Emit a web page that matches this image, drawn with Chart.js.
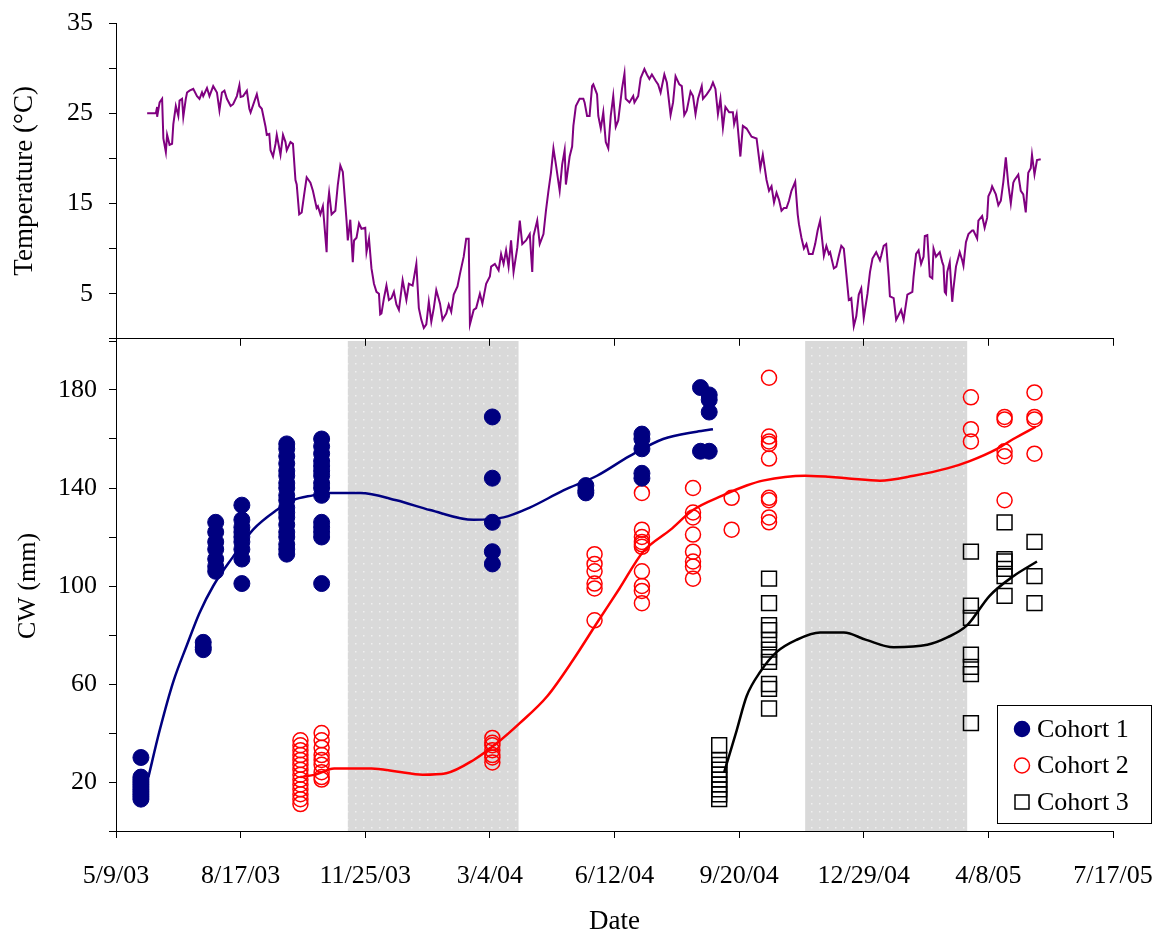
<!DOCTYPE html>
<html>
<head>
<meta charset="utf-8">
<script src="https://cdn.jsdelivr.net/npm/chart.js@4.4.1/dist/chart.umd.min.js"></script>
<style>
  body { margin: 0; background: #fff; }
  #wrap { position: relative; width: 1165px; height: 940px; }
  #tempChart { position: absolute; left: 0; top: 0; z-index: 2; }
  #cwChart { position: absolute; left: 0; top: 320px; z-index: 1; }
</style>
</head>
<body>
<div id="wrap">
  <canvas id="tempChart" width="1165" height="360"></canvas>
  <canvas id="cwChart" width="1165" height="620"></canvas>
</div>
<script>
// x values are days after 5/9/03
var xTickLabels = ['5/9/03', '8/17/03', '11/25/03', '3/4/04', '6/12/04', '9/20/04', '12/29/04', '4/8/05', '7/17/05'];
var tempTickLabels = ['5', '15', '25', '35'];
var cwTickLabels = ['20', '60', '100', '140', '180'];

// winter periods (shaded)
var bandStart = [186, 553];
var bandEnd = [323, 683];

var tempDay = [25, 32, 33, 33, 35, 37, 38, 40, 41, 43, 45, 46, 48, 50, 51, 53, 54, 56, 57, 59, 62, 65, 67, 69, 70, 73, 75, 78, 81, 83, 85, 87, 89, 92, 94, 97, 99, 100, 102, 105, 107, 108, 110, 113, 115, 117, 120, 121, 123, 124, 126, 128, 129, 132, 134, 136, 137, 140, 142, 144, 145, 147, 149, 151, 153, 156, 158, 161, 162, 164, 166, 169, 170, 171, 173, 176, 178, 180, 182, 184, 185, 186, 188, 190, 191, 193, 195, 197, 200, 201, 203, 205, 207, 209, 211, 212, 213, 215, 217, 219, 221, 223, 225, 227,
  230, 233, 235, 238, 241, 243, 245, 247, 249, 251, 253, 255, 257, 260, 262, 265, 267, 269, 271, 274, 276, 279, 281, 283, 284, 287, 289, 292, 294, 297, 300, 301, 304, 307, 309, 311, 313, 315, 317, 319, 322, 324, 326, 329, 332, 334, 335, 338, 340, 343, 345, 347, 349, 351, 353, 356, 358, 360, 361, 364, 366, 367, 369, 372, 375, 376, 378, 380, 382, 383, 386, 387, 389, 391, 393, 395, 397, 399, 401, 403, 406, 408, 409, 412, 415, 416, 419, 421, 424, 426, 428, 430, 433, 435, 437, 440, 442, 445, 447, 449, 452, 454, 456, 458, 461, 463, 465, 467, 470, 471, 474, 477, 479, 481, 483, 485, 487, 489, 492, 495, 496, 498, 501, 503, 506, 510, 514, 517,
  519, 522, 524, 526, 528, 530, 532, 534, 536, 538, 540, 542, 545, 547, 548, 550, 552, 554, 556, 559, 561, 563, 565, 568, 570, 572, 573, 576, 578, 580, 582, 584, 586, 588, 590, 592, 594, 596, 598, 600, 603, 605, 607, 610, 613, 614, 616, 618, 620, 621, 624, 626, 630, 632, 635, 639, 640, 642, 644, 646, 648, 649, 651, 653, 655, 656, 658, 661, 663, 664, 665, 666, 667, 669, 671, 672, 674, 677, 679, 680, 682, 684, 687, 688, 691, 692, 695, 697, 699, 700, 702, 703, 706, 708, 710, 712, 714, 716, 718, 720, 721, 724, 726, 728, 730, 732, 734, 735, 737, 739, 742];
var tempC = [25.0, 25.0, 25.7, 24.6, 26.2, 26.6, 22.2, 20.7, 22.6, 21.5, 21.6, 23.8, 25.8, 24.7, 26.4, 26.6, 24.6, 26.6, 27.3, 27.5, 27.7, 26.9, 26.6, 27.3, 26.9, 27.8, 26.9, 28.0, 27.3, 25.3, 27.3, 27.5, 26.6, 25.8, 26.0, 26.9, 28.1, 26.8, 26.9, 27.5, 25.5, 25.1, 25.9, 27.1, 25.8, 25.5, 23.5, 22.6, 22.7, 20.9, 20.2, 21.6, 22.6, 20.4, 22.6, 21.8, 20.9, 21.8, 21.6, 17.6, 17.1, 13.8, 14.0, 16.0, 17.9, 17.3, 16.4, 14.5, 14.7, 13.8, 14.7, 9.6, 14.9, 16.2, 13.8, 14.2, 17.1, 19.2, 18.5, 14.9, 13.1, 10.9, 13.2, 8.5, 10.9, 11.2, 12.8, 12.2, 12.3, 9.6, 11.1, 7.8, 6.1, 5.2, 5.0, 2.7, 2.8, 4.5, 5.9, 4.3, 4.5, 5.2, 3.8, 3.2,
  6.5, 4.3, 6.1, 5.9, 8.3, 3.4, 2.1, 1.2, 1.6, 4.1, 1.9, 3.4, 5.4, 3.9, 2.1, 2.8, 3.8, 3.0, 4.9, 5.8, 7.2, 9.1, 11.1, 11.1, 1.6, 3.2, 3.4, 5.0, 3.9, 6.1, 6.9, 8.0, 8.3, 7.6, 9.4, 8.3, 9.8, 8.0, 10.9, 7.4, 10.1, 13.1, 10.5, 10.9, 11.6, 7.4, 11.4, 13.1, 10.5, 11.6, 14.2, 16.4, 18.4, 21.1, 19.3, 16.4, 19.3, 20.9, 17.1, 20.2, 21.3, 23.6, 25.8, 26.6, 26.6, 26.2, 24.7, 24.7, 28.0, 28.2, 27.1, 24.7, 23.3, 25.1, 21.8, 21.1, 24.7, 26.9, 23.5, 24.2, 27.7, 29.4, 26.6, 26.2, 26.9, 26.2, 26.9, 28.9, 29.9, 29.3, 28.8, 29.3, 28.6, 28.2, 27.3, 29.3, 28.4, 24.8, 26.2, 29.1, 28.2, 28.0, 24.8, 25.3, 27.4, 26.9, 24.9, 26.6, 28.0, 26.6, 27.1, 27.7, 28.4, 27.7, 24.9, 26.6, 23.4, 25.7, 25.1, 25.1, 23.8, 24.9, 20.2, 23.6, 23.3, 22.4, 22.2, 18.9,
  20.4, 17.6, 16.4, 16.9, 15.1, 16.2, 15.4, 14.2, 14.5, 14.5, 15.3, 16.4, 17.4, 13.8, 12.7, 11.2, 10.0, 10.5, 9.4, 9.4, 10.5, 12.0, 13.1, 9.2, 10.3, 9.4, 9.6, 7.8, 8.0, 9.2, 10.3, 10.0, 7.2, 4.3, 4.5, 1.4, 2.5, 4.9, 5.6, 2.3, 5.0, 7.4, 8.9, 9.6, 8.7, 9.2, 10.3, 10.5, 6.9, 4.7, 4.5, 2.1, 3.2, 2.1, 4.9, 5.2, 6.9, 9.4, 9.8, 8.3, 9.1, 11.4, 11.5, 6.9, 6.7, 10.0, 9.1, 9.6, 8.5, 8.1, 5.2, 5.0, 7.4, 8.5, 4.1, 5.6, 8.0, 9.6, 8.7, 8.1, 10.7, 11.6, 12.0, 12.0, 11.1, 13.1, 13.6, 12.3, 13.4, 15.8, 16.4, 16.9, 16.0, 14.8, 15.3, 17.4, 20.1, 17.1, 15.0, 17.3, 17.6, 18.2, 16.4, 16.0, 14.0, 18.4, 18.9, 20.4, 18.2, 19.8, 19.9];

// carapace width samples, one list per sampling day
var c1Days = [20, 70, 80, 101, 137, 165, 302, 377, 422, 469, 476];
var c1CW = [
  [30, 22, 21, 20, 19, 18, 17, 16, 15, 14, 13],
  [77, 75, 74],
  [126, 122, 118, 115, 111, 108, 106],
  [133, 127, 124, 122, 120, 118, 115, 111, 101],
  [158, 156, 153, 150, 147, 145, 142, 140, 137, 135, 132, 130, 128, 125, 122, 120, 117, 115, 113],
  [160, 157, 154, 151, 149, 147, 145, 142, 140, 137, 126, 124, 122, 120, 101],
  [169, 144, 126, 114, 109],
  [141, 139, 138],
  [162, 160, 156, 146, 144],
  [181, 155],
  [178, 176, 171, 155]
];
var c2Days = [148, 165, 302, 384, 422, 463, 494, 524, 686, 713, 737];
var c2CW = [
  [37, 35, 33, 31, 29, 27, 25, 23, 21, 19, 17, 15, 13, 11],
  [40, 37, 34, 31, 29, 27, 24, 22, 21],
  [38, 36, 35, 33, 31, 30, 28],
  [113, 109, 106, 101, 99, 86],
  [138, 123, 120, 118, 117, 116, 106, 100, 98, 93],
  [140, 130, 128, 121, 114, 110, 108, 103],
  [136, 123],
  [185, 161, 159, 158, 152, 136, 135, 128, 126],
  [177, 164, 159],
  [169, 168, 155, 153, 135],
  [179, 169, 168, 154]
];
var c3Days = [484, 524, 686, 713, 737];
var c3CW = [
  [35, 29, 27, 25, 23, 21, 19, 17, 15, 13],
  [103, 93, 84, 82, 78, 74, 71, 69, 60, 58, 50],
  [114, 92, 87, 72, 67, 64, 44],
  [126, 111, 110, 107, 104, 96],
  [118, 104, 93]
];

// growth curves
var fit1Day = [26, 35, 46, 57, 67, 78, 94, 110, 129, 142, 158, 169, 196, 225, 252, 287, 311, 332, 359, 386, 412, 439, 466, 479];
var fit1CW = [22, 41, 61, 76, 89, 100, 112, 123, 131, 135, 137, 138, 138, 135, 131, 127, 128, 132, 139, 145, 153, 160, 163, 164];
var fit2Day = [148, 160, 175, 205, 225, 246, 265, 287, 306, 324, 346, 367, 386, 404, 423, 445, 463, 487, 506, 519, 553, 586, 613, 640, 667, 685, 707, 720, 738];
var fit2CW = [22, 23, 25.5, 25.5, 24.3, 23, 23.6, 29, 36, 44, 55, 70, 85, 99, 114, 123, 131, 137, 141, 143, 145, 144, 143, 145, 148, 151, 156, 160, 165];
var fit3Day = [488, 498, 506, 517, 530, 546, 565, 584, 602, 624, 651, 667, 683, 701, 720, 739];
var fit3CW = [24, 41, 55, 65, 73, 78, 81, 81, 78, 75, 76, 79, 84, 96, 104, 110];

var serif = 'Liberation Serif';

function toXY(days, vals) {
  return days.map(function (d, i) { return { x: d, y: vals[i] }; });
}
function groupPoints(days, lists) {
  var pts = [];
  days.forEach(function (d, i) {
    lists[i].forEach(function (v) { pts.push({ x: d, y: v }); });
  });
  return pts;
}

// tick label padding is folded into lineHeight so Chart.js doesn't grow the layout
function xScale(showLabels) {
  return {
    type: 'linear', min: 0, max: 800,
    afterFit: function (s) { s.height = showLabels ? 109 : 18; },
    grid: { drawOnChartArea: false, drawTicks: true, tickLength: 7, color: '#000' },
    border: { display: true, color: '#000', width: 1 },
    ticks: {
      display: showLabels, stepSize: 100, autoSkip: false, maxRotation: 0, padding: 4,
      color: '#000', font: { family: serif, size: 26, lineHeight: 2.6 },
      callback: function (v, i) { return xTickLabels[i]; }
    },
    title: {
      display: showLabels, text: 'Date', color: '#000',
      font: { family: serif, size: 27 }, padding: { top: 0, bottom: 2 }
    }
  };
}

function yScale(max, step, labels, pad, title, titleSize, titlePad) {
  return {
    min: 0, max: max,
    afterFit: function (s) { s.width = 116; },
    grid: { drawOnChartArea: false, drawTicks: true, tickLength: 7, color: '#000' },
    border: { display: true, color: '#000', width: 1 },
    ticks: {
      stepSize: step, padding: pad, color: '#000',
      font: { family: serif, size: 26, lineHeight: 0.4 },
      callback: function (v) { return labels.indexOf(String(v)) >= 0 ? String(v) : ''; }
    },
    title: {
      display: true, text: title, color: '#000',
      font: { family: serif, size: titleSize }, padding: { top: titlePad, bottom: 0 }
    }
  };
}

// dotted grey winter bands
var tile = document.createElement('canvas');
tile.width = 8; tile.height = 8;
var tctx = tile.getContext('2d');
tctx.fillStyle = '#d9d9d9';
tctx.fillRect(0, 0, 8, 8);
tctx.fillStyle = '#efefef';
tctx.fillRect(3, 3, 1.5, 1.5);

var bandPlugin = {
  id: 'bands',
  beforeDraw: function (chart) {
    var ctx = chart.ctx, a = chart.chartArea, x = chart.scales.x;
    ctx.save();
    ctx.fillStyle = ctx.createPattern(tile, 'repeat');
    for (var i = 0; i < bandStart.length; i++) {
      var x0 = x.getPixelForValue(bandStart[i]);
      var x1 = x.getPixelForValue(bandEnd[i]);
      ctx.fillRect(x0, a.top, x1 - x0, a.bottom - a.top);
    }
    ctx.restore();
  }
};

var legendPlugin = {
  id: 'boxLegend',
  afterDraw: function (chart) {
    var ctx = chart.ctx, a = chart.chartArea;
    var w = 154, h = 118;
    var left = a.right + 38 - w, top = a.bottom - 8 - h;
    ctx.save();
    ctx.fillStyle = '#fff';
    ctx.fillRect(left, top, w, h);
    ctx.strokeStyle = '#000';
    ctx.lineWidth = 1;
    ctx.strokeRect(left + 0.5, top + 0.5, w, h);
    var items = chart.data.datasets.filter(function (d) { return !d.showLine; });
    items.forEach(function (d, i) {
      var cy = top + 24 + i * 36.5, cx = left + 25;
      ctx.lineWidth = 1.5;
      ctx.strokeStyle = d.borderColor;
      ctx.fillStyle = d.backgroundColor;
      ctx.beginPath();
      if (d.pointStyle === 'rect') {
        ctx.rect(cx - 7, cy - 7, 14, 14);
      } else {
        ctx.arc(cx, cy, 7.5, 0, Math.PI * 2);
      }
      ctx.fill();
      ctx.stroke();
      ctx.fillStyle = '#000';
      ctx.font = '26px "' + serif + '"';
      ctx.textBaseline = 'middle';
      ctx.fillText(d.label, left + 40, cy + 1);
    });
    ctx.restore();
  }
};

new Chart(document.getElementById('tempChart').getContext('2d'), {
  type: 'line',
  data: {
    datasets: [{
      label: 'Temperature',
      data: toXY(tempDay, tempC),
      borderColor: '#800080',
      borderWidth: 2,
      pointRadius: 0,
      tension: 0
    }]
  },
  options: {
    responsive: false,
    animation: false,
    layout: { padding: { top: 23, right: 52, bottom: 0, left: 0 } },
    plugins: { legend: { display: false }, tooltip: { enabled: false } },
    scales: {
      x: xScale(false),
      y: yScale(35, 5, tempTickLabels, 16, 'Temperature (°C)', 27, 9)
    }
  }
});

new Chart(document.getElementById('cwChart').getContext('2d'), {
  type: 'scatter',
  data: {
    datasets: [
      { label: 'Cohort 1', data: groupPoints(c1Days, c1CW), pointStyle: 'circle', pointRadius: 8,
        backgroundColor: '#000080', borderColor: '#000080', borderWidth: 1, order: 1 },
      { label: 'Cohort 2', data: groupPoints(c2Days, c2CW), pointStyle: 'circle', pointRadius: 7.5,
        backgroundColor: 'rgba(0,0,0,0)', borderColor: '#ff0000', borderWidth: 1.5, order: 1 },
      { label: 'Cohort 3', data: groupPoints(c3Days, c3CW), pointStyle: 'rect', pointRadius: 10.5,
        backgroundColor: 'rgba(0,0,0,0)', borderColor: '#000000', borderWidth: 1.5, order: 1 },
      { label: 'fit 1', data: toXY(fit1Day, fit1CW), showLine: true, pointRadius: 0,
        borderColor: '#000080', borderWidth: 2.5, cubicInterpolationMode: 'monotone', order: 2 },
      { label: 'fit 2', data: toXY(fit2Day, fit2CW), showLine: true, pointRadius: 0,
        borderColor: '#ff0000', borderWidth: 2.5, cubicInterpolationMode: 'monotone', order: 2 },
      { label: 'fit 3', data: toXY(fit3Day, fit3CW), showLine: true, pointRadius: 0,
        borderColor: '#000000', borderWidth: 2.5, cubicInterpolationMode: 'monotone', order: 2 }
    ]
  },
  options: {
    responsive: false,
    animation: false,
    layout: { padding: { top: 21, right: 52, bottom: 0, left: 0 } },
    plugins: { legend: { display: false }, tooltip: { enabled: false } },
    scales: {
      x: xScale(true),
      y: yScale(200, 20, cwTickLabels, 12, 'CW (mm)', 26, 13)
    }
  },
  plugins: [bandPlugin, legendPlugin]
});
</script>
</body>
</html>
